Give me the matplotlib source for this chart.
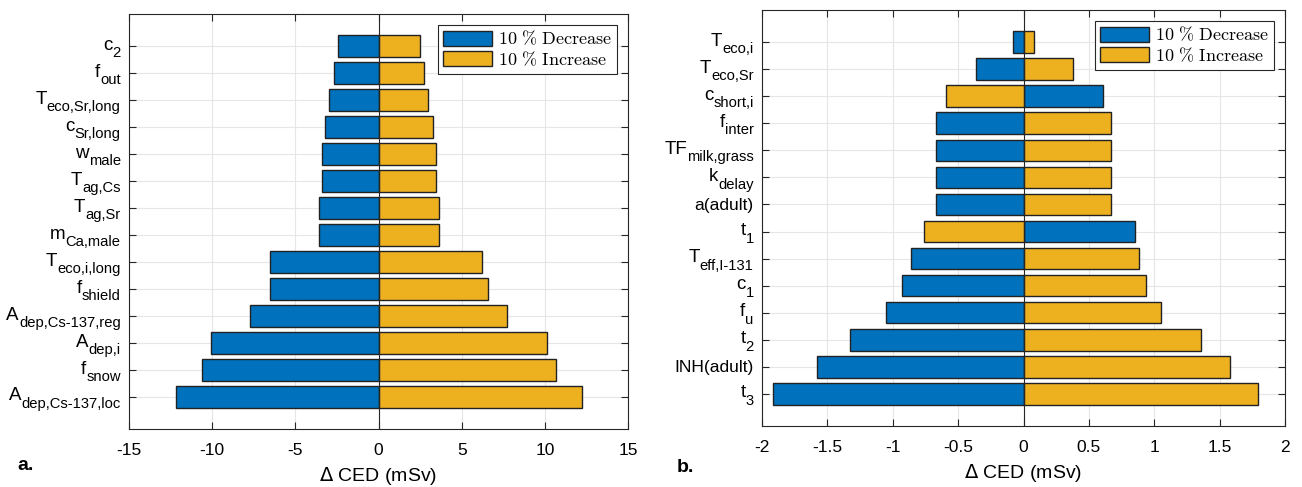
import numpy as np
import matplotlib
matplotlib.use("Agg")
import matplotlib.pyplot as plt

plt.rcParams['font.family'] = ['Liberation Sans', 'DejaVu Sans']

# panel a: parameters, top to bottom (base, subscript)
labels_a = [('c', '2'), ('f', 'out'), ('T', 'eco,Sr,long'), ('c', 'Sr,long'), ('w', 'male'),
            ('T', 'ag,Cs'), ('T', 'ag,Sr'), ('m', 'Ca,male'), ('T', 'eco,i,long'),
            ('f', 'shield'), ('A', 'dep,Cs-137,reg'), ('A', 'dep,i'), ('f', 'snow'),
            ('A', 'dep,Cs-137,loc')]
decrease_a = [-2.45, -2.7, -3.0, -3.2, -3.4, -3.4, -3.6, -3.6, -6.5, -6.5, -7.7, -10.1, -10.6, -12.2]
increase_a = [2.5, 2.75, 3.0, 3.3, 3.45, 3.45, 3.65, 3.65, 6.2, 6.6, 7.7, 10.1, 10.65, 12.2]

# panel b
labels_b = [('T', 'eco,i'), ('T', 'eco,Sr'), ('c', 'short,i'), ('f', 'inter'), ('TF', 'milk,grass'),
            ('k', 'delay'), ('a(adult)', ''), ('t', '1'), ('T', 'eff,I-131'), ('c', '1'), ('f', 'u'),
            ('t', '2'), ('INH(adult)', ''), ('t', '3')]
decrease_b = [-0.08, -0.36, 0.61, -0.67, -0.67, -0.67, -0.67, 0.85, -0.86, -0.93, -1.05, -1.33, -1.58, -1.92]
increase_b = [0.08, 0.38, -0.59, 0.67, 0.67, 0.67, 0.67, -0.76, 0.88, 0.94, 1.05, 1.36, 1.58, 1.79]

xticks_a = [-15, -10, -5, 0, 5, 10, 15]
xticks_b = [-2, -1.5, -1, -0.5, 0, 0.5, 1, 1.5, 2]

blue = '#0072BD'
orange = '#EDB120'
dark = '#262626'

fig = plt.figure(figsize=(13.02, 4.87), dpi=100)
ax_a = fig.add_axes([0.0991, 0.1191, 0.3833, 0.8522])
ax_b = fig.add_axes([0.5853, 0.1253, 0.4017, 0.8542])
renderer = fig.canvas.get_renderer()


def panel(ax, labels, dec, inc, xticks):
    n = len(labels)
    y = np.arange(n)[::-1] + 1
    ax.barh(y, dec, height=0.8, color=blue, edgecolor='#222222', linewidth=1.0,
            label=r'$\mathrm{10\ \%\ Decrease}$', zorder=3)
    ax.barh(y, inc, height=0.8, color=orange, edgecolor='#222222', linewidth=1.0,
            label=r'$\mathrm{10\ \%\ Increase}$', zorder=3)
    ax.axvline(0, color=dark, lw=0.8, zorder=4)
    ax.set_yticks(y)
    ax.set_yticklabels([])
    ax.set_ylim(1 - 1.19, n + 1.19)
    ax.set_xlim(xticks[0], xticks[-1])
    ax.set_xticks(xticks)
    ax.set_xticklabels(['%g' % v for v in xticks])
    ax.grid(True, color='#e6e6e6', lw=0.8, zorder=0)
    ax.tick_params(direction='in', top=True, right=True, length=5, width=0.8,
                   color=dark, labelsize=12.5, pad=10)
    for sp in ax.spines.values():
        sp.set_color(dark)
        sp.set_linewidth(0.8)
    ax.set_xlabel(r'$\Delta$ CED (mSv)', fontsize=14, labelpad=5)
    leg = ax.legend(loc='upper right', prop=dict(math_fontfamily='cm', size=13),
                    fancybox=False, edgecolor=dark, framealpha=1,
                    handlelength=2.7, handleheight=0.9, handletextpad=0.3,
                    borderpad=0.3, labelspacing=0.1, borderaxespad=0.6)
    leg.get_frame().set_linewidth(0.8)

    # tick labels with subscripts, drawn as two texts
    trans = ax.get_yaxis_transform()
    for (base, sub), yy in zip(labels, y):
        if sub:
            t = ax.annotate(sub, xy=(0, yy), xycoords=trans, xytext=(-6, -8),
                            textcoords='offset points', ha='right', va='baseline',
                            fontsize=10.6)
            w = t.get_window_extent(renderer).width * 72 / fig.dpi
            ax.annotate(base, xy=(0, yy), xycoords=trans, xytext=(-6 - w, -2.6),
                        textcoords='offset points', ha='right', va='baseline',
                        fontsize=13.5)
        else:
            ax.annotate(base, xy=(0, yy), xycoords=trans, xytext=(-6, -0.8),
                        textcoords='offset points', ha='right', va='center',
                        fontsize=12.5)


panel(ax_a, labels_a, decrease_a, increase_a, xticks_a)
panel(ax_b, labels_b, decrease_b, increase_b, xticks_b)

fig.text(0.013, 0.035, 'a.', fontsize=14, fontweight='bold')
fig.text(0.52, 0.03, 'b.', fontsize=14, fontweight='bold')

fig.savefig('out.png', dpi=100)
